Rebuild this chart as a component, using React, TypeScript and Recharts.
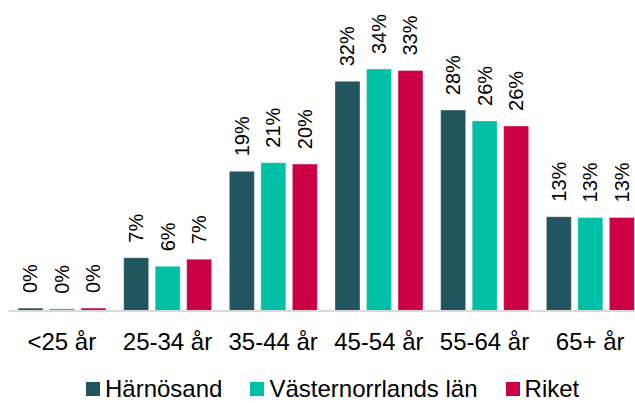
import { BarChart, Bar, XAxis, YAxis, Legend, LabelList } from 'recharts'

const categories = ['<25 år', '25-34 år', '35-44 år', '45-54 år', '55-64 år', '65+ år']
const harnosand = [0.4, 7.4, 19.4, 31.9, 27.9, 13.1]
const vasternorrland = [0.3, 6.2, 20.6, 33.6, 26.4, 13.0]
const riket = [0.4, 7.2, 20.4, 33.4, 25.7, 13.0]

const seriesNames = ['Härnösand', 'Västernorrlands län', 'Riket']
const colors = ['#225560', '#00BFA5', '#CC0044']

const chartData = categories.map((name, i) => ({
  name,
  h: harnosand[i],
  v: vasternorrland[i],
  r: riket[i]
}))

const FONT = 'Arial, "Liberation Sans", sans-serif'

// roterad etikett ovanför stapeln
const VerticalLabel = (props: any) => {
  const { x, y, width, value } = props
  const cx = x + width / 2
  const ty = y - 15
  return (
    <text
      x={cx}
      y={ty}
      transform={`rotate(-90, ${cx}, ${ty})`}
      textAnchor="start"
      dominantBaseline="central"
      fontSize={20}
      fontFamily={FONT}
      fill="#000"
    >
      {`${Math.round(value)}%`}
    </text>
  )
}

const LegendContent = () => (
  <div style={{ display: 'flex', alignItems: 'center', height: 20, lineHeight: '20px', paddingLeft: 86, fontFamily: FONT, fontSize: 24, color: '#000' }}>
    {seriesNames.map((n, i) => (
      <div key={n} style={{ display: 'flex', alignItems: 'center', marginRight: 28 }}>
        <span style={{ width: 14, height: 14, background: colors[i], display: 'inline-block', marginRight: 5 }} />
        <span>{n}</span>
      </div>
    ))}
  </div>
)

export default function App() {
  return (
    <div style={{ position: 'absolute', left: 0, top: 0, width: 635, height: 403, overflow: 'hidden', background: '#fff' }}>
      <BarChart
        width={650}
        height={403}
        data={chartData}
        margin={{ top: 23, right: 7, left: 9, bottom: 52 }}
        barSize={25}
        barGap={6.5}
      >
        <XAxis
          dataKey="name"
          height={40}
          tickSize={0}
          tickMargin={22}
          axisLine={{ stroke: '#d9d9d9', strokeWidth: 2 }}
          tick={{ fill: '#000', fontSize: 24, fontFamily: FONT }}
          interval={0}
        />
        <YAxis hide domain={[0, 40]} />
        <Legend
          verticalAlign="middle"
          align="center"
          wrapperStyle={{ top: 379, left: 0, width: 635, height: 20 }}
          content={<LegendContent />}
        />
        <Bar dataKey="h" name={seriesNames[0]} fill={colors[0]} stroke="rgba(255,255,255,0.35)" isAnimationActive={false}>
          <LabelList dataKey="h" content={<VerticalLabel />} />
        </Bar>
        <Bar dataKey="v" name={seriesNames[1]} fill={colors[1]} stroke="rgba(255,255,255,0.35)" isAnimationActive={false}>
          <LabelList dataKey="v" content={<VerticalLabel />} />
        </Bar>
        <Bar dataKey="r" name={seriesNames[2]} fill={colors[2]} stroke="rgba(255,255,255,0.35)" isAnimationActive={false}>
          <LabelList dataKey="r" content={<VerticalLabel />} />
        </Bar>
      </BarChart>
    </div>
  )
}
